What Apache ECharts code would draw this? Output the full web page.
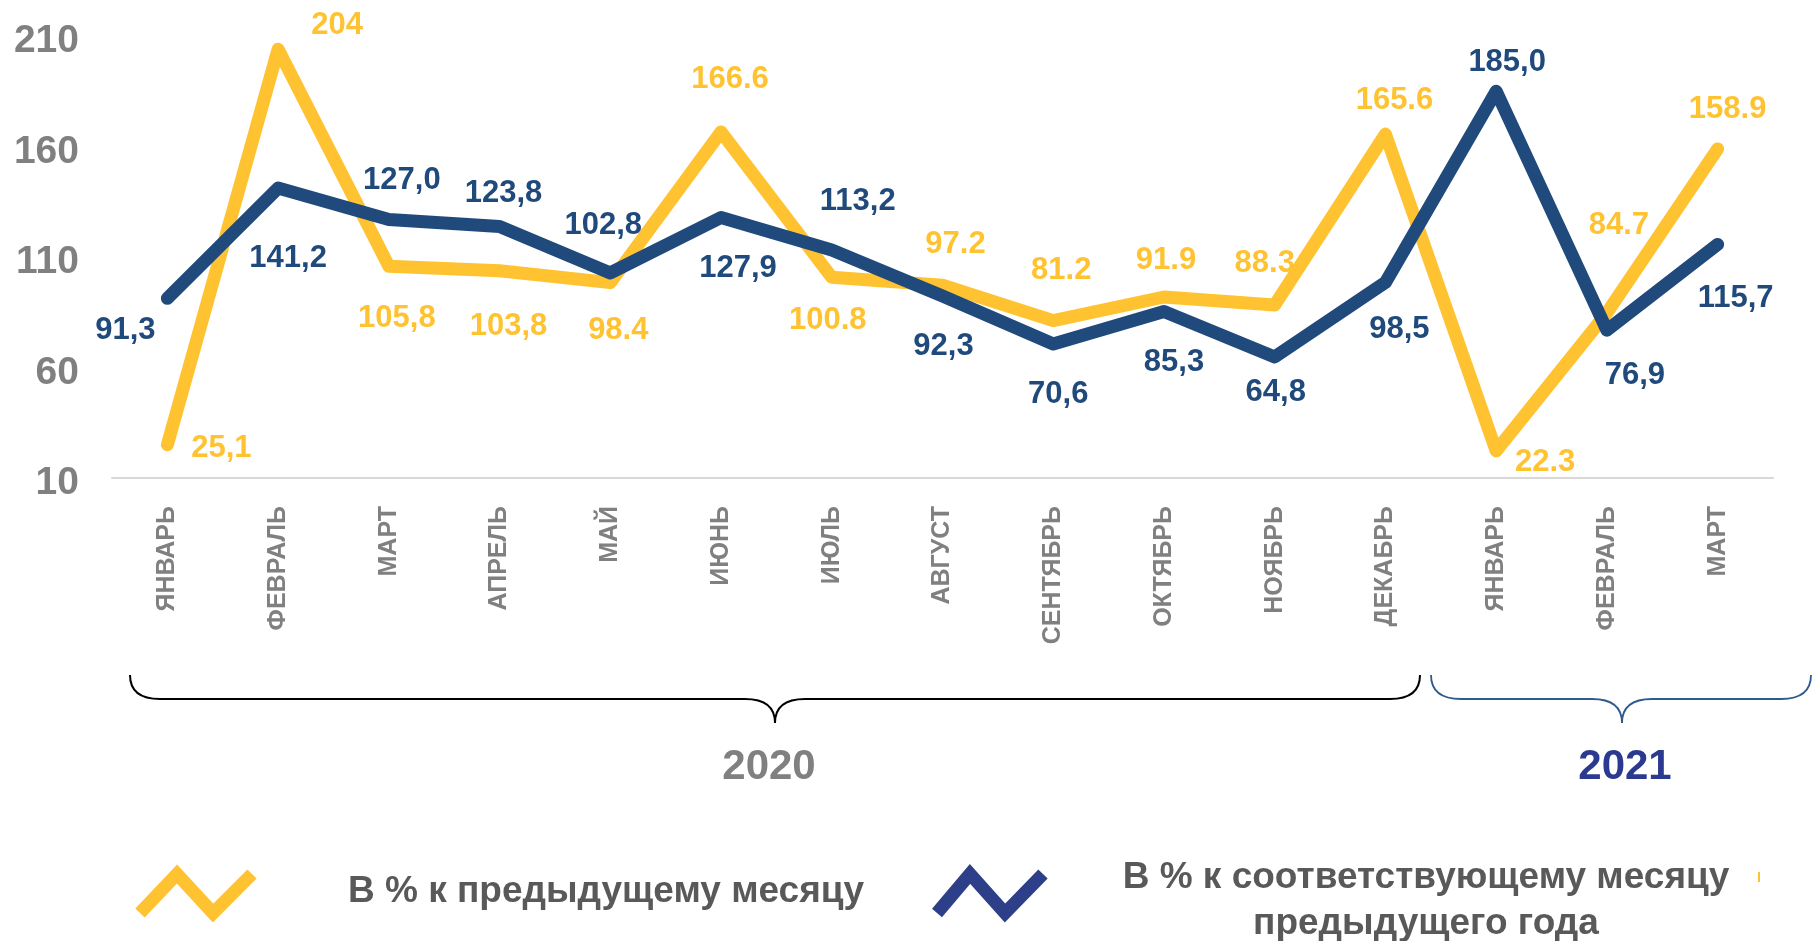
<!DOCTYPE html>
<html>
<head>
<meta charset="utf-8">
<script src="https://cdn.jsdelivr.net/npm/echarts@6/dist/echarts.min.js"></script>
<style>
  html, body { margin: 0; padding: 0; background: #fff; }
  #chart { width: 1813px; height: 941px; }
</style>
</head>
<body>
<div id="chart"></div>
<script>
const months = ["ЯНВАРЬ", "ФЕВРАЛЬ", "МАРТ", "АПРЕЛЬ", "МАЙ", "ИЮНЬ", "ИЮЛЬ", "АВГУСТ",
  "СЕНТЯБРЬ", "ОКТЯБРЬ", "НОЯБРЬ", "ДЕКАБРЬ", "ЯНВАРЬ", "ФЕВРАЛЬ", "МАРТ"];

// в % к предыдущему месяцу
const momValues = [25.1, 204, 105.8, 103.8, 98.4, 166.6, 100.8, 97.2, 81.2, 91.9, 88.3, 165.6, 22.3, 84.7, 158.9];
const momLabels = ["25,1", "204", "105,8", "103,8", "98.4", "166.6", "100.8", "97.2", "81.2", "91.9", "88.3", "165.6", "22.3", "84.7", "158.9"];

// в % к соответствующему месяцу предыдущего года
const yoyValues = [91.3, 141.2, 127.0, 123.8, 102.8, 127.9, 113.2, 92.3, 70.6, 85.3, 64.8, 98.5, 185.0, 76.9, 115.7];

const yTicks = [10, 60, 110, 160, 210];

const momName = "В % к предыдущему месяцу";
const yoyName = "В % к соответствующему месяцу предыдущего года";

// label placement, px from the point
const momOffsets = [[54, 4], [59, -24], [8, 52], [9, 56], [8, 48], [9, -52], [-4, 43], [13, -41],
  [8, -50], [2, -37], [-10, -42], [9, -34], [49, 12], [12, -87], [10, -39]];
const yoyOffsets = [[-42, 32], [10, 70], [13, -39], [4, -33], [-7, -47], [17, 51], [26, -48], [1, 50],
  [5, 50], [10, 51], [1, 36], [14, 47], [11, -29], [28, 45], [18, 54]];

const FONT = "'Liberation Sans', Arial, sans-serif";
const YELLOW = "#FFC332";
const BLUE = "#214A7C";
const GRAY = "#808080";

function buildData(values, offsets, texts) {
  return values.map((v, i) => ({
    value: v,
    label: { offset: offsets[i], formatter: texts[i] },
  }));
}

// curly brace under a range of months: x0..x1, tip at xt
function brace(x0, x1, xt, color, width) {
  const top = 675, mid = 699, tip = 723, r = 30;
  const style = { stroke: color, lineWidth: width, fill: "none" };
  const curve = (a, c, b) => ({
    type: "bezierCurve",
    shape: { x1: a[0], y1: a[1], cpx1: c[0], cpy1: c[1], x2: b[0], y2: b[1] },
    style,
  });
  const line = (a, b) => ({ type: "line", shape: { x1: a[0], y1: a[1], x2: b[0], y2: b[1] }, style });
  return [
    curve([x0, top], [x0, mid], [x0 + r, mid]),
    line([x0 + r, mid], [xt - r, mid]),
    curve([xt - r, mid], [xt, mid], [xt, tip]),
    curve([xt, tip], [xt, mid], [xt + r, mid]),
    line([xt + r, mid], [x1 - r, mid]),
    curve([x1 - r, mid], [x1, mid], [x1, top]),
  ];
}

const chart = echarts.init(document.getElementById("chart"));

chart.setOption({
  animation: false,
  backgroundColor: "#fff",
  grid: { left: 112, right: 40, top: 36, bottom: 463 },
  xAxis: {
    type: "category",
    data: months,
    boundaryGap: true,
    axisLine: { lineStyle: { color: "#d9d9d9", width: 2 } },
    axisTick: { show: false },
    axisLabel: {
      rotate: 90,
      margin: 28,
      interval: 0,
      color: GRAY,
      fontFamily: FONT,
      fontWeight: "bold",
      fontSize: 25,
    },
  },
  yAxis: {
    type: "value",
    min: yTicks[0],
    max: yTicks[yTicks.length - 1],
    interval: 50,
    axisLine: { show: false },
    axisTick: { show: false },
    splitLine: { show: false },
    axisLabel: {
      margin: 33,
      formatter: (v) => "{t|" + v + "}",
      rich: {
        t: {
          padding: [11, 0, 0, 0],
          color: GRAY,
          fontFamily: FONT,
          fontWeight: "bold",
          fontSize: 39,
        },
      },
    },
  },
  series: [
    {
      name: momName,
      type: "line",
      z: 2,
      data: buildData(momValues, momOffsets, momLabels),
      symbol: "circle",
      symbolSize: 1,
      itemStyle: { color: YELLOW },
      lineStyle: { color: YELLOW, width: 13, cap: "round", join: "round" },
      label: {
        show: true,
        position: "inside",
        color: YELLOW,
        fontFamily: FONT,
        fontWeight: "bold",
        fontSize: 31,
      },
    },
    {
      name: yoyName,
      type: "line",
      z: 3,
      data: buildData(yoyValues, yoyOffsets, yoyValues.map((v) => v.toFixed(1).replace(".", ","))),
      symbol: "circle",
      symbolSize: 1,
      itemStyle: { color: BLUE },
      lineStyle: { color: BLUE, width: 13, cap: "round", join: "round" },
      label: {
        show: true,
        position: "inside",
        color: BLUE,
        fontFamily: FONT,
        fontWeight: "bold",
        fontSize: 31,
      },
    },
  ],
  graphic: [
    ...brace(130, 1420, 775, "#000", 2),
    ...brace(1431, 1811, 1622, "#2F5A8E", 1.8),
    {
      type: "text", x: 769, y: 767,
      style: { text: "2020", fill: GRAY, font: "bold 42px " + FONT, align: "center", verticalAlign: "middle" },
    },
    {
      type: "text", x: 1625, y: 767,
      style: { text: "2021", fill: "#2B3990", font: "bold 42px " + FONT, align: "center", verticalAlign: "middle" },
    },
    // legend
    {
      type: "polyline",
      shape: { points: [[140, 913], [177, 874], [213, 913], [252, 874]] },
      style: { stroke: YELLOW, lineWidth: 13, fill: "none", lineJoin: "miter", lineCap: "butt" },
    },
    {
      type: "text", x: 348, y: 892,
      style: { text: momName, fill: "#595959", font: "bold 37px " + FONT, align: "left", verticalAlign: "middle" },
    },
    {
      type: "polyline",
      shape: { points: [[937, 913], [970, 874], [1005, 913], [1043, 874]] },
      style: { stroke: "#2E3F8A", lineWidth: 13, fill: "none", lineJoin: "miter", lineCap: "butt" },
    },
    {
      type: "text", x: 1426, y: 901,
      style: {
        text: "В % к соответствующему месяцу\nпредыдущего года",
        fill: "#595959", font: "bold 37px " + FONT, lineHeight: 46,
        align: "center", verticalAlign: "middle",
      },
    },
    {
      type: "rect",
      shape: { x: 1758, y: 872, width: 2, height: 10 },
      style: { fill: YELLOW },
    },
  ],
});
</script>
</body>
</html>
